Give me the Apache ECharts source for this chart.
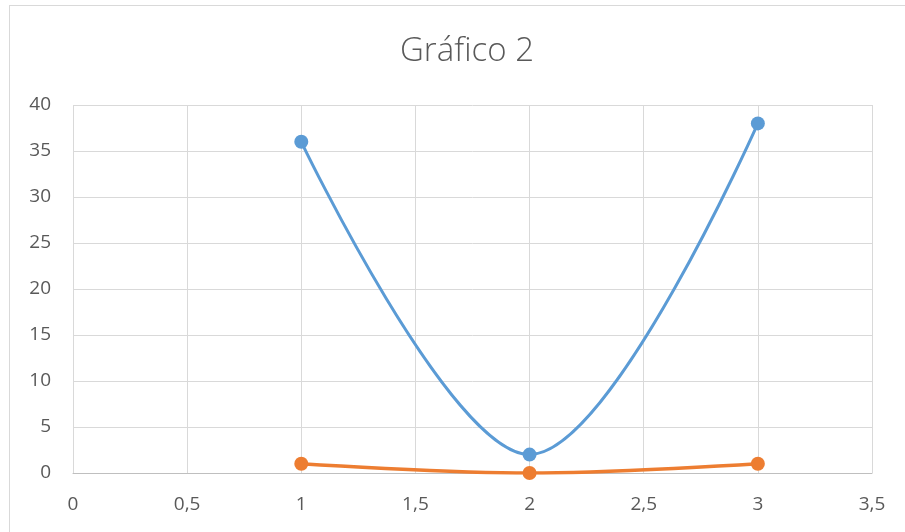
<!DOCTYPE html>
<html><head><meta charset="utf-8">
<script src="https://cdn.jsdelivr.net/npm/echarts@6/dist/echarts.min.js"></script>
<style>
html,body{margin:0;padding:0;background:#fff;overflow:hidden;}
#frame{position:absolute;left:9px;top:5px;width:910px;height:540px;border:1px solid #d9d9d9;box-sizing:border-box;}
#c{position:absolute;left:0;top:0;width:905px;height:532px;}
</style></head>
<body>
<div id="frame"></div>
<div id="c"></div>
<script>
const titleText = "Gráfico 2";
const xValues = [1, 2, 3];
const series1 = [36, 2, 38];
const series2 = [1, 0, 1];
const xTicks = [0, 0.5, 1, 1.5, 2, 2.5, 3, 3.5];
const yTicks = [0, 5, 10, 15, 20, 25, 30, 35, 40];

const chart = echarts.init(document.getElementById('c'), null, {renderer:'canvas'});
const fmt = v => String(v).replace('.', ',');
chart.setOption({
  animation:false,
  title:{text:titleText,left:395,top:30,textStyle:{fontFamily:'Open Sans',fontWeight:300,fontSize:33,color:'#595959'}},
  grid:{left:73,right:33,top:105,bottom:59},
  xAxis:{type:'value',min:xTicks[0],max:xTicks[xTicks.length-1],interval:0.5,
    axisLine:{show:true,lineStyle:{color:'#bfbfbf',width:1}},axisTick:{show:false},
    axisLabel:{formatter:fmt,color:'#595959',fontSize:19,fontFamily:'Open Sans',margin:22},
    splitLine:{show:true,lineStyle:{color:'#d9d9d9',width:1}}},
  yAxis:{type:'value',min:yTicks[0],max:yTicks[yTicks.length-1],interval:5,
    axisLine:{show:false},axisTick:{show:false},
    axisLabel:{formatter:fmt,color:'#595959',fontSize:19,fontFamily:'Open Sans',margin:22},
    splitLine:{show:true,lineStyle:{color:'#d9d9d9',width:1}}},
  series:[
    {type:'line',data:xValues.map((x,i)=>[x,series1[i]]),smooth:0.35,symbol:'circle',symbolSize:14,
      lineStyle:{color:'#5b9bd5',width:3},itemStyle:{color:'#5b9bd5'}},
    {type:'line',data:xValues.map((x,i)=>[x,series2[i]]),smooth:0.35,symbol:'circle',symbolSize:14,
      lineStyle:{color:'#ed7d31',width:3.5},itemStyle:{color:'#ed7d31'}}
  ]
});
</script>
</body></html>
